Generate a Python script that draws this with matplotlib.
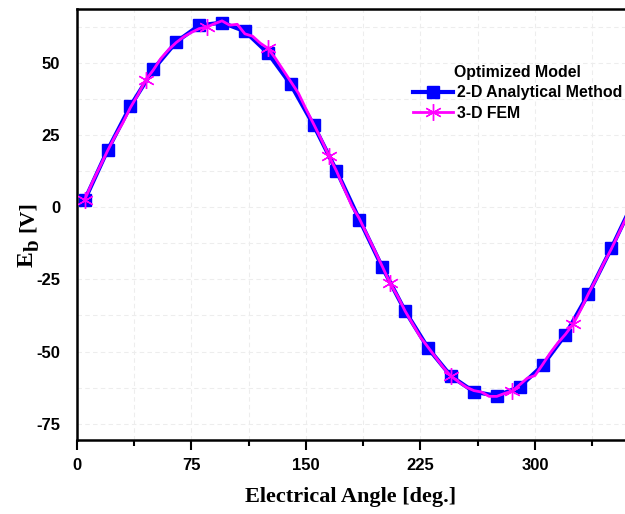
import matplotlib
matplotlib.use("Agg")
import matplotlib.pyplot as plt
from matplotlib.ticker import MultipleLocator

# DATA
# 2-D analytical method, every 15 deg
angle_2d = [5, 20, 35, 50, 65, 80, 95, 110, 125, 140, 155, 170, 185, 200, 215,
            230, 245, 260, 275, 290, 305, 320, 335, 350, 365]
eb_2d = [2.4, 19.7, 35.0, 47.7, 57.2, 62.9, 63.9, 60.9, 53.4, 42.5, 28.4, 12.6,
         -4.3, -20.8, -36.0, -48.8, -58.5, -63.9, -65.3, -62.2, -54.8, -44.1,
         -30.1, -14.3, 2.4]

# 3-D FEM, every 5 deg
angle_3d = list(range(5, 370, 5))
eb_3d = [2.5, 8.5, 14.0, 19.5, 24.6, 29.2, 34.5, 39.0, 44.0, 47.5, 51.5, 54.5,
         57.0, 59.0, 60.5, 61.8, 62.4, 63.5, 64.5, 63.0, 63.3, 60.0, 59.2, 56.8,
         55.0, 51.5, 47.5, 43.5, 39.5, 34.0, 28.8, 23.5, 17.8, 12.5, 6.5, 0.5,
         -4.0, -9.5, -15.0, -20.5, -26.2, -30.8, -36.0, -40.5, -45.0, -48.5,
         -52.0, -55.5, -58.5, -60.5, -62.3, -63.5, -64.0, -65.5, -65.5, -64.5,
         -63.7, -61.5, -59.2, -58.3, -54.5, -50.5, -47.0, -44.0, -40.5, -35.5,
         -30.0, -25.0, -19.5, -14.5, -9.0, -3.5, 2.0]

legend_title = 'Optimized Model'
label_2d = '2-D Analytical Method'
label_3d = '3-D FEM'

plt.rcParams['axes.unicode_minus'] = False

W, H = 625, 514
fig = plt.figure(figsize=(W / 100, H / 100), dpi=100)
ax = fig.add_axes([77 / W, 74 / H, 548 / W, 431 / H])

# curves
ax.plot(angle_2d, eb_2d, color='#0000ff', lw=3, marker='s', markersize=8.5,
        label=label_2d, zorder=3)
ax.plot(angle_3d, eb_3d, color='#ff00ff', lw=2, marker=(6, 2, 0), markersize=12,
        markevery=8, markeredgewidth=1, label=label_3d, zorder=4)

ax.set_xlim(0, 359)
ax.set_ylim(-80.6, 68.6)
ax.xaxis.set_major_locator(MultipleLocator(75))
ax.xaxis.set_minor_locator(MultipleLocator(37.5))
ax.yaxis.set_major_locator(MultipleLocator(25))
ax.yaxis.set_minor_locator(MultipleLocator(12.5))

ax.grid(which='both', color='#ededed', ls=(0, (4, 3)), lw=0.8, zorder=0)

for s in ['left', 'bottom', 'top']:
    ax.spines[s].set_linewidth(1.8)
ax.spines['right'].set_visible(False)

ax.tick_params(axis='x', which='major', direction='out', length=7, width=1.5, pad=6)
ax.tick_params(axis='x', which='minor', direction='out', length=4, width=1.5)
ax.tick_params(axis='x', which='both', top=False)
ax.tick_params(axis='y', which='both', length=0, pad=12)

for lab in ax.get_xticklabels() + ax.get_yticklabels():
    lab.set_fontfamily('Liberation Sans')
    lab.set_fontweight('bold')
    lab.set_fontsize(12)

ax.set_xlabel('Electrical Angle [deg.]', fontfamily='Liberation Serif',
              fontweight='bold', fontsize=16, labelpad=10)

# y label built from pieces so the subscript stays large: E, b (lowered), [V]
ylab = dict(fontfamily='Liberation Serif', fontweight='bold', rotation=90,
            rotation_mode='anchor', ha='left', va='baseline')
fig.text(33 / W, (H - 267) / H, 'E', fontsize=17, **ylab)
fig.text(39 / W, (H - 251) / H, 'b', fontsize=15, **ylab)
fig.text(33 / W, (H - 232) / H, '[V]', fontsize=16, **ylab)

leg = ax.legend(title=legend_title, loc='upper right', bbox_to_anchor=(1.006, 0.885),
                frameon=False, handlelength=2.5, borderaxespad=0.0,
                labelspacing=0.35, handletextpad=0.25,
                prop={'family': 'Liberation Sans', 'weight': 'bold', 'size': 11.4},
                title_fontproperties={'family': 'Liberation Sans', 'weight': 'bold', 'size': 11.4})

plt.savefig('out.png', dpi=100)
plt.close()
